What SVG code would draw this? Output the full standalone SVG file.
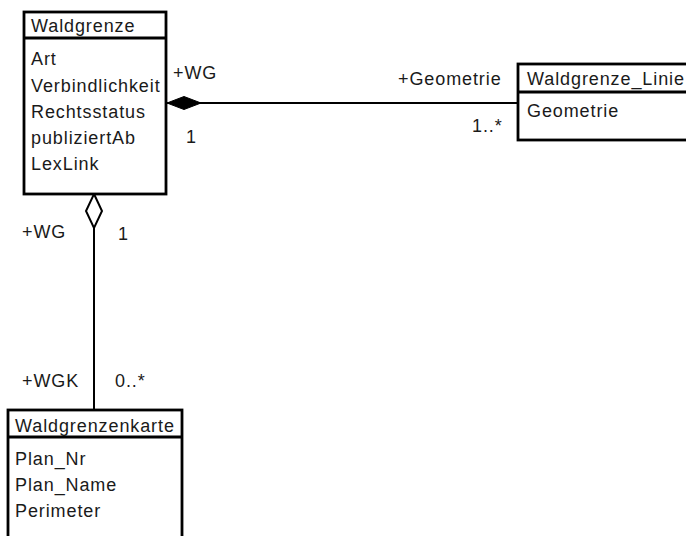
<svg xmlns="http://www.w3.org/2000/svg" width="686" height="536" viewBox="0 0 686 536">
<style>
.box{fill:#fff;stroke:#000;stroke-width:2.8}
.sep{stroke:#000;stroke-width:2.8}
.ln{stroke:#000;stroke-width:2;fill:none}
text{font-family:"Liberation Sans",Arial,sans-serif;font-size:18px;letter-spacing:0.9px;fill:#1a1a1a}
</style>
<rect width="686" height="536" fill="#fff"/>
<g id="connectors">
<line class="ln" x1="166" y1="103" x2="518" y2="103"/>
<polygon points="167,103 184,96.5 201,103 184,109.5" fill="#000" stroke="#000" stroke-width="1"/>
<line class="ln" x1="94" y1="228" x2="94" y2="410"/>
<polygon points="94,194 102,211 94,228 86,211" fill="#fff" stroke="#000" stroke-width="2"/>
<text x="173" y="79">+WG</text>
<text x="186" y="143">1</text>
<text x="398" y="85">+Geometrie</text>
<text x="472" y="132">1..*</text>
<text x="22" y="238">+WG</text>
<text x="118" y="240">1</text>
<text x="22" y="387">+WGK</text>
<text x="115" y="387">0..*</text>
</g>
<g id="Waldgrenze">
<rect class="box" x="24" y="12" width="142" height="182"/>
<line class="sep" x1="24" y1="38" x2="166" y2="38"/>
<text x="31" y="32">Waldgrenze</text>
<text x="31" y="65">Art</text>
<text x="31" y="92">Verbindlichkeit</text>
<text x="31" y="118">Rechtsstatus</text>
<text x="31" y="144">publiziertAb</text>
<text x="31" y="170">LexLink</text>
</g>
<g id="Waldgrenze_Linie">
<rect class="box" x="518" y="64" width="180" height="76"/>
<line class="sep" x1="518" y1="92" x2="698" y2="92"/>
<text x="527" y="85" textLength="157" lengthAdjust="spacing" style="letter-spacing:0">Waldgrenze_Linie</text>
<text x="527" y="117">Geometrie</text>
</g>
<g id="Waldgrenzenkarte">
<rect class="box" x="8" y="410" width="174" height="140"/>
<line class="sep" x1="8" y1="437" x2="182" y2="437"/>
<text x="15" y="432">Waldgrenzenkarte</text>
<text x="15" y="465">Plan_Nr</text>
<text x="15" y="491">Plan_Name</text>
<text x="15" y="517">Perimeter</text>
</g>
</svg>
